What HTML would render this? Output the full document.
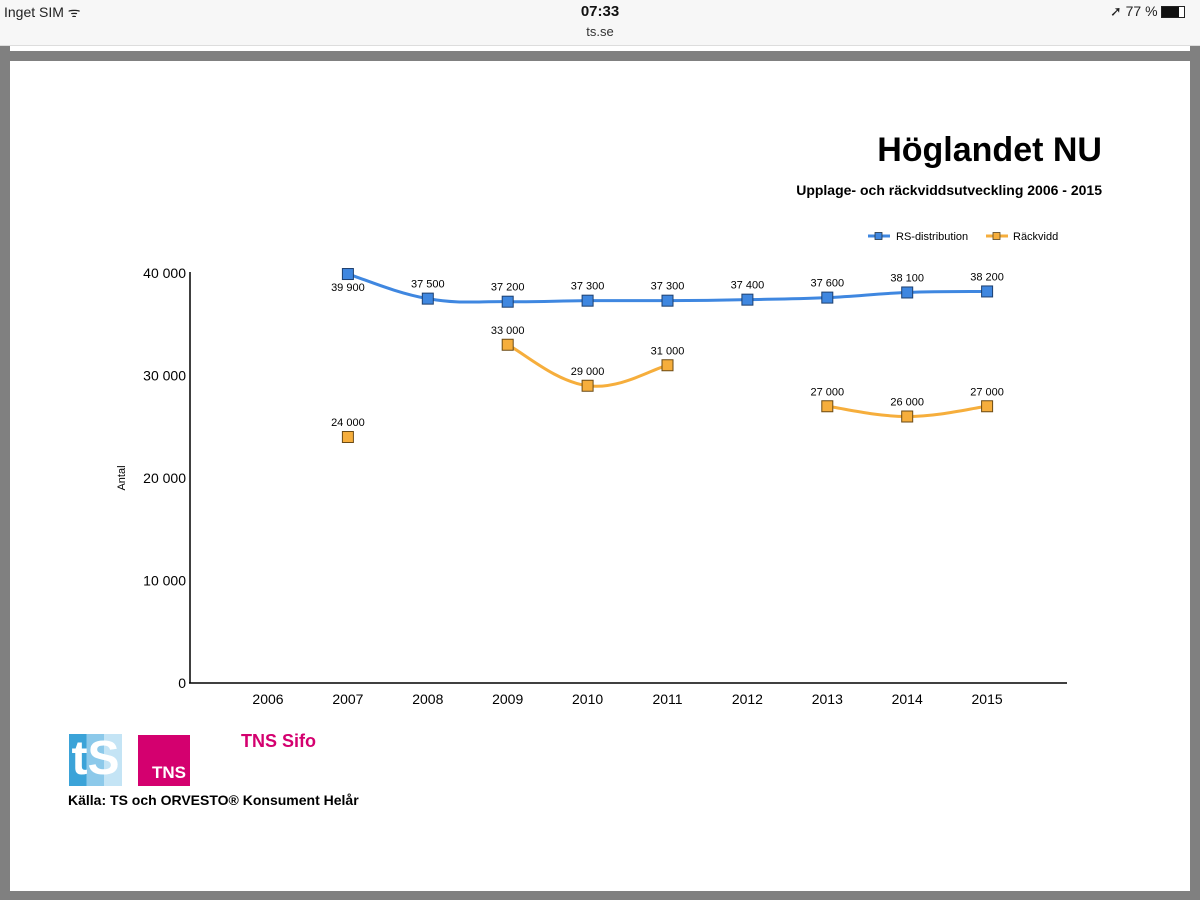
<!DOCTYPE html>
<html><head><meta charset="utf-8"><style>
body{margin:0;width:1200px;height:900px;position:relative;overflow:hidden;background:#fff;font-family:"Liberation Sans",sans-serif}
.abs{position:absolute}
</style></head><body>
<div class="abs" style="left:0;top:0;width:1200px;height:45px;background:#f7f7f7;border-bottom:1px solid #ddd"></div>
<div class="abs" style="left:4px;top:3px;font-size:14px;color:#222">Inget SIM ᯤ</div>
<div class="abs" style="left:0;width:1200px;text-align:center;top:3px;font-size:15px;font-weight:bold;color:#111">07:33</div>
<div class="abs" style="left:0;width:1200px;text-align:center;top:24px;font-size:13px;color:#333">ts.se</div>
<div class="abs" style="left:1110px;top:3px;font-size:14px;color:#222">➚ 77 % <span style="display:inline-block;width:22px;height:10px;border:1px solid #222;vertical-align:middle;background:linear-gradient(90deg,#111 77%,#fff 77%)"></span></div>
<div class="abs" style="left:0;top:46px;width:1200px;height:854px;background:#808080"></div>
<div class="abs" style="left:10px;top:46px;width:1180px;height:5px;background:#fff"></div>
<div class="abs" style="left:10px;top:61px;width:1180px;height:830px;background:#fff"></div>
<svg class="abs" style="left:0;top:0" width="1200" height="900" id="chart">
<text x="1102" y="161" text-anchor="end" font-size="34" font-weight="bold">Höglandet NU</text>
<text x="1102" y="195" text-anchor="end" font-size="14" font-weight="bold">Upplage- och räckviddsutveckling 2006 - 2015</text>
<g font-size="11">
<g><line x1="868" y1="236" x2="890" y2="236" stroke="#3f87e0" stroke-width="3"/><rect x="875" y="232.5" width="7" height="7" fill="#3f87e0" stroke="#234" stroke-width="0.8"/><text x="896" y="240">RS-distribution</text></g>
<g><line x1="986" y1="236" x2="1008" y2="236" stroke="#f6ae3c" stroke-width="3"/><rect x="993" y="232.5" width="7" height="7" fill="#f6ae3c" stroke="#542" stroke-width="0.8"/><text x="1013" y="240">Räckvidd</text></g>
</g>
<text transform="translate(125,478) rotate(-90)" text-anchor="middle" font-size="11">Antal</text>
<line x1="190" y1="272" x2="190" y2="683" stroke="#000" stroke-width="1.5"/>
<line x1="189" y1="683" x2="1067" y2="683" stroke="#000" stroke-width="1.5"/>
<g id="ticks"></g><g id="marks"></g>
</svg>
<div class="abs" style="left:69px;top:734px;width:53px;height:52px;background:linear-gradient(90deg,#3ba3d8 0 33%,#8cc9ea 33% 66%,#c4e4f5 66%)"><div style="position:absolute;left:0;top:0;width:53px;height:52px;color:#fff;font-size:48px;line-height:50px;font-weight:bold;text-align:center">tS</div></div>
<div class="abs" style="left:138px;top:735px;width:52px;height:51px;background:#d4006f"><span style="position:absolute;right:4px;bottom:3px;color:#fff;font-size:17px;font-weight:bold">TNS</span></div>
<div class="abs" style="left:241px;top:731px;color:#d4006f;font-size:18px;font-weight:bold">TNS Sifo</div>
<div class="abs" style="left:68px;top:792px;font-size:14px;font-weight:bold">Källa: TS och ORVESTO® Konsument Helår</div>
<script>
const years=[2006,2007,2008,2009,2010,2011,2012,2013,2014,2015];
const yTicks=[0,10000,20000,30000,40000];
const rsValues=[null,39900,37500,37200,37300,37300,37400,37600,38100,38200];
const rackValues=[null,24000,null,33000,29000,31000,null,27000,26000,27000];
const NS="http://www.w3.org/2000/svg";
const X=i=>268+i*79.9, Y=v=>683-v*0.01025;
const fmt=v=>String(v).replace(/\B(?=(\d{3})+(?!\d))/g,' ');
const ticks=document.getElementById('ticks'), marks=document.getElementById('marks');
function mk(tag,at,parent){const e=document.createElementNS(NS,tag);for(const k in at)e.setAttribute(k,at[k]);parent.appendChild(e);return e;}
yTicks.forEach(v=>{const t=mk('text',{x:186,y:Y(v)+5,'text-anchor':'end','font-size':14},ticks);t.textContent=fmt(v);

});
years.forEach((y,i)=>{const t=mk('text',{x:X(i),y:704,'text-anchor':'middle','font-size':14},ticks);t.textContent=y;

});
function segs(vals){const out=[];let cur=[];vals.forEach((v,i)=>{if(v==null){if(cur.length)out.push(cur);cur=[];}else cur.push([X(i),Y(v)]);});if(cur.length)out.push(cur);return out;}
function path(p){if(p.length<2)return null;let d=`M${p[0][0]},${p[0][1]}`;
for(let i=0;i<p.length-1;i++){const p0=p[i-1]||p[i],p1=p[i],p2=p[i+1],p3=p[i+2]||p2;const t=0.2;
d+=` C${p1[0]+(p2[0]-p0[0])*t},${p1[1]+(p2[1]-p0[1])*t} ${p2[0]-(p3[0]-p1[0])*t},${p2[1]-(p3[1]-p1[1])*t} ${p2[0]},${p2[1]}`;}return d;}
function series(vals,color,stroke,name){
segs(vals).forEach(s=>{const d=path(s);if(d){const l=mk('path',{d,fill:'none',stroke:color,'stroke-width':3},marks);

}});
vals.forEach((v,i)=>{if(v==null)return;const r=mk('rect',{x:X(i)-5.5,y:Y(v)-5.5,width:11,height:11,fill:color,stroke:stroke,'stroke-width':1},marks);


const below=(name==='rs'&&i===1);const t=mk('text',{x:X(i),y:below?Y(v)+17:Y(v)-11,'text-anchor':'middle','font-size':11},marks);t.textContent=fmt(v);

});}
series(rsValues,'#3f87e0','#1d3f6e','rs');
series(rackValues,'#f6ae3c','#6b4a14','rackvidd');
</script>
</body></html>
